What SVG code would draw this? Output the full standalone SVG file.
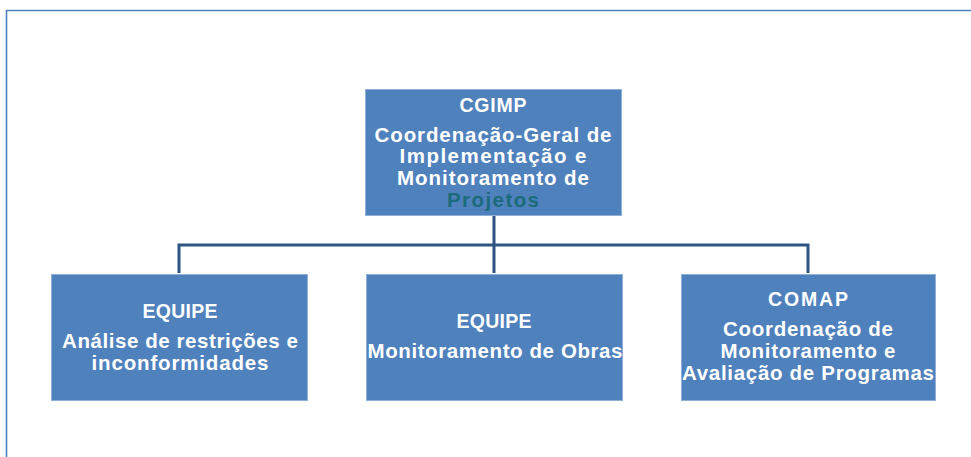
<svg xmlns="http://www.w3.org/2000/svg" width="971" height="457" viewBox="0 0 971 457">
<style>
.box{fill:#4f81bd;stroke:#8fb0d9;stroke-width:1}
.conn{fill:none;stroke:#2e5582;stroke-width:3}
.frame{fill:none;stroke:#4f81bd;stroke-width:1.6}
text{font-family:"Liberation Sans",Arial,sans-serif;fill:#ffffff;text-anchor:middle}
.h{font-size:19.5px;font-weight:bold}
.b{font-size:20.5px;font-weight:bold}
.teal{fill:#1c6b7a}
</style>
<rect width="971" height="457" fill="#ffffff"/>
<path class="frame" d="M6.5,460 V10.5 H975"/>
<g id="connectors">
<path class="conn" d="M494,216 V273"/>
<path class="conn" d="M179,273 V245 H808 V273"/>
</g>
<g id="cgimp">
<rect class="box" x="365.5" y="89.5" width="256" height="126"/>
<text class="h" x="493" y="112" textLength="67" lengthAdjust="spacing">CGIMP</text>
<text class="b" x="493" y="142" textLength="237" lengthAdjust="spacing">Coordenação-Geral de</text>
<text class="b" x="493" y="163" textLength="187" lengthAdjust="spacing">Implementação e</text>
<text class="b" x="493" y="185" textLength="192" lengthAdjust="spacing">Monitoramento de</text>
<text class="b teal" x="493" y="207" textLength="92" lengthAdjust="spacing">Projetos</text>
</g>
<g id="equipe-analise">
<rect class="box" x="51.5" y="274.5" width="256" height="126"/>
<text class="h" x="180" y="318" textLength="75" lengthAdjust="spacing">EQUIPE</text>
<text class="b" x="180" y="348" textLength="236" lengthAdjust="spacing">Análise de restrições e</text>
<text class="b" x="180" y="370" textLength="177" lengthAdjust="spacing">inconformidades</text>
</g>
<g id="equipe-obras">
<rect class="box" x="366.5" y="274.5" width="256" height="126"/>
<text class="h" x="494" y="328" textLength="75" lengthAdjust="spacing">EQUIPE</text>
<text class="b" x="495" y="358" textLength="255" lengthAdjust="spacing">Monitoramento de Obras</text>
</g>
<g id="comap">
<rect class="box" x="681.5" y="274.5" width="254" height="126"/>
<text class="h" x="808" y="306" textLength="80" lengthAdjust="spacing">COMAP</text>
<text class="b" x="808" y="336" textLength="170" lengthAdjust="spacing">Coordenação de</text>
<text class="b" x="808" y="358" textLength="175" lengthAdjust="spacing">Monitoramento e</text>
<text class="b" x="808" y="380" textLength="252" lengthAdjust="spacing">Avaliação de Programas</text>
</g>
</svg>
